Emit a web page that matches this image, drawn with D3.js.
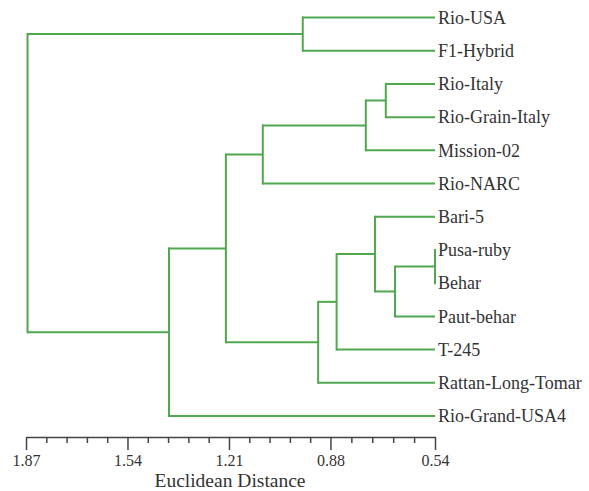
<!DOCTYPE html>
<html>
<head>
<meta charset="utf-8">
<script src="https://cdn.jsdelivr.net/npm/d3@7"></script>
</head>
<body style="margin:0;background:#fff">
<svg id="chart" width="589" height="491"></svg>
<script>
// leaf order, top to bottom
const leaves = ["Rio-USA", "F1-Hybrid", "Rio-Italy", "Rio-Grain-Italy", "Mission-02", "Rio-NARC",
  "Bari-5", "Pusa-ruby", "Behar", "Paut-behar", "T-245", "Rattan-Long-Tomar", "Rio-Grand-USA4"];

// linkage: [left, right, distance]; new cluster ids start at leaves.length
const merges = [
  [0, 1, 0.97],    // 13
  [2, 3, 0.70],    // 14
  [14, 4, 0.765],  // 15
  [15, 5, 1.10],   // 16
  [7, 8, 0.54],    // 17
  [17, 9, 0.67],   // 18
  [6, 18, 0.735],  // 19
  [19, 10, 0.86],  // 20
  [20, 11, 0.92],  // 21
  [16, 21, 1.22],  // 22
  [22, 12, 1.405], // 23
  [13, 23, 1.865]  // 24
];

const majorTicks = [1.87, 1.54, 1.21, 0.88, 0.54];
const minorPerInterval = 4;

const FONT = "'Liberation Serif', 'Times New Roman', serif";
const TEXT_COLOR = '#333';

const svg = d3.select('#chart');

const x = d3.scaleLinear().domain([1.87, 0.54]).range([26, 435]);
const y = d3.scalePoint().domain(leaves).range([17.5, 416]);

// build tree from linkage
const nodes = leaves.map(name => ({name: name, dist: 0.54}));
merges.forEach(m => {
  nodes.push({children: [nodes[m[0]], nodes[m[1]]], dist: m[2]});
});
const root = d3.hierarchy(nodes[nodes.length - 1]);

// leaves on the point scale, parents at the middle of their children
root.eachAfter(d => {
  d.py = d.children ? d3.mean(d.children, c => c.py) : y(d.data.name);
});

const xOf = d => d.children ? x(d.data.dist) : x.range()[1];

const g = svg.append('g');
const lineColor = '#4fa84f';

root.descendants().filter(d => d.children).forEach(d => {
  const ys = d.children.map(c => c.py);
  g.append('line')
    .attr('x1', xOf(d)).attr('x2', xOf(d))
    .attr('y1', d3.min(ys)).attr('y2', d3.max(ys))
    .attr('stroke', lineColor).attr('stroke-width', 2).attr('stroke-linecap', 'square');
  d.children.forEach(c => {
    g.append('line')
      .attr('x1', xOf(d)).attr('x2', xOf(c))
      .attr('y1', c.py).attr('y2', c.py)
      .attr('stroke', lineColor).attr('stroke-width', 2);
  });
});

g.selectAll('.leaf')
  .data(root.leaves())
  .enter().append('text')
  .attr('class', 'leaf')
  .attr('x', x.range()[1] + 3)
  .attr('y', d => d.py)
  .attr('dy', '0.35em')
  .style('font-family', FONT)
  .style('font-size', '18px')
  .style('fill', TEXT_COLOR)
  .text(d => d.data.name);

// axis
const minorTicks = [];
for (let i = 0; i < majorTicks.length - 1; i++) {
  const a = majorTicks[i], b = majorTicks[i + 1];
  for (let k = 1; k <= minorPerInterval; k++) minorTicks.push(a + (b - a) * k / (minorPerInterval + 1));
}

const axisY = 437;
const axisG = svg.append('g').attr('transform', `translate(0,${axisY})`);

axisG.call(d3.axisBottom(x).tickValues(majorTicks).tickSize(13).tickSizeOuter(0)
  .tickFormat(d3.format('.2f')).tickPadding(5));

axisG.append('g').call(d3.axisBottom(x).tickValues(minorTicks).tickSize(6).tickFormat(''))
  .select('.domain').remove();

axisG.selectAll('line, path').attr('stroke', '#444').attr('stroke-width', 1.5);
axisG.selectAll('text')
  .style('font-family', FONT)
  .style('font-size', '16px')
  .style('fill', TEXT_COLOR);

svg.append('text')
  .attr('x', 230)
  .attr('y', 487)
  .attr('text-anchor', 'middle')
  .style('font-family', FONT)
  .style('font-size', '19.5px')
  .style('fill', TEXT_COLOR)
  .text('Euclidean Distance');
</script>
</body>
</html>
